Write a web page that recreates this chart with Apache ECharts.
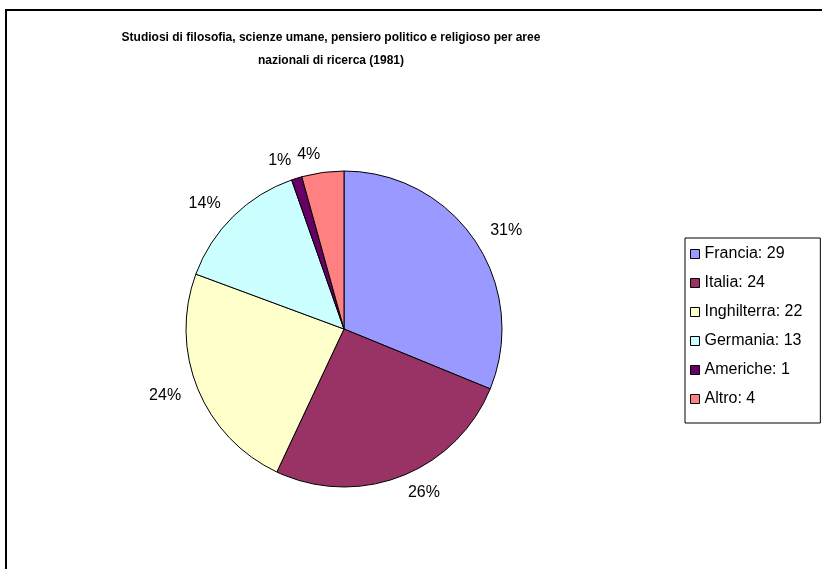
<!DOCTYPE html>
<html>
<head>
<meta charset="utf-8">
<script src="https://cdn.jsdelivr.net/npm/echarts@6/dist/echarts.min.js"></script>
<style>
html,body{margin:0;padding:0;background:#fff;}
#c{width:822px;height:569px;}
</style>
</head>
<body>
<div id="c"></div>
<script>
var categories = ['Francia', 'Italia', 'Inghilterra', 'Germania', 'Americhe', 'Altro'];
var values = [29, 24, 22, 13, 1, 4];
var colors = ['#9999FF', '#993366', '#FFFFCC', '#CCFFFF', '#660066', '#FF8080'];
var titleText = 'Studiosi di filosofia, scienze umane, pensiero politico e religioso per aree\nnazionali di ricerca (1981)';

var chart = echarts.init(document.getElementById('c'), null, {renderer: 'canvas'});
var data = categories.map(function (c, i) {
  return {name: c, value: values[i], itemStyle: {color: colors[i]}};
});
chart.setOption({
  backgroundColor: '#ffffff',
  animation: false,
  graphic: [
    {type: 'rect', shape: {x: 6, y: 10, width: 840, height: 600}, style: {fill: 'none', stroke: '#000', lineWidth: 2}, z: 0},
    {type: 'text', x: 331, y: 26, style: {text: titleText, align: 'center', verticalAlign: 'top', font: 'bold 12px Arial', lineHeight: 23, fill: '#000'}}
  ],
  legend: {
    orient: 'vertical',
    left: 685,
    top: 238,
    padding: [8, 18, 16, 5],
    itemWidth: 9,
    itemHeight: 9,
    itemGap: 13,
    icon: 'rect',
    borderColor: '#000',
    borderWidth: 1,
    itemStyle: {borderColor: '#000', borderWidth: 1},
    textStyle: {fontFamily: 'Arial', fontSize: 16, lineHeight: 16, color: '#000'},
    formatter: function (name) {
      return name + ': ' + values[categories.indexOf(name)];
    },
    data: categories
  },
  series: [{
    type: 'pie',
    center: [344, 329],
    radius: 158,
    startAngle: 90,
    clockwise: true,
    avoidLabelOverlap: false,
    data: data,
    itemStyle: {borderColor: '#000', borderWidth: 1},
    emphasis: {disabled: true},
    label: {
      show: true,
      position: 'outside',
      fontFamily: 'Arial',
      fontSize: 16,
      color: '#000',
      distanceToLabelLine: 0,
      formatter: function (p) { return Math.round(p.percent) + '%'; }
    },
    labelLine: {show: false, length: 18, length2: 0}
  }]
});
</script>
</body>
</html>
